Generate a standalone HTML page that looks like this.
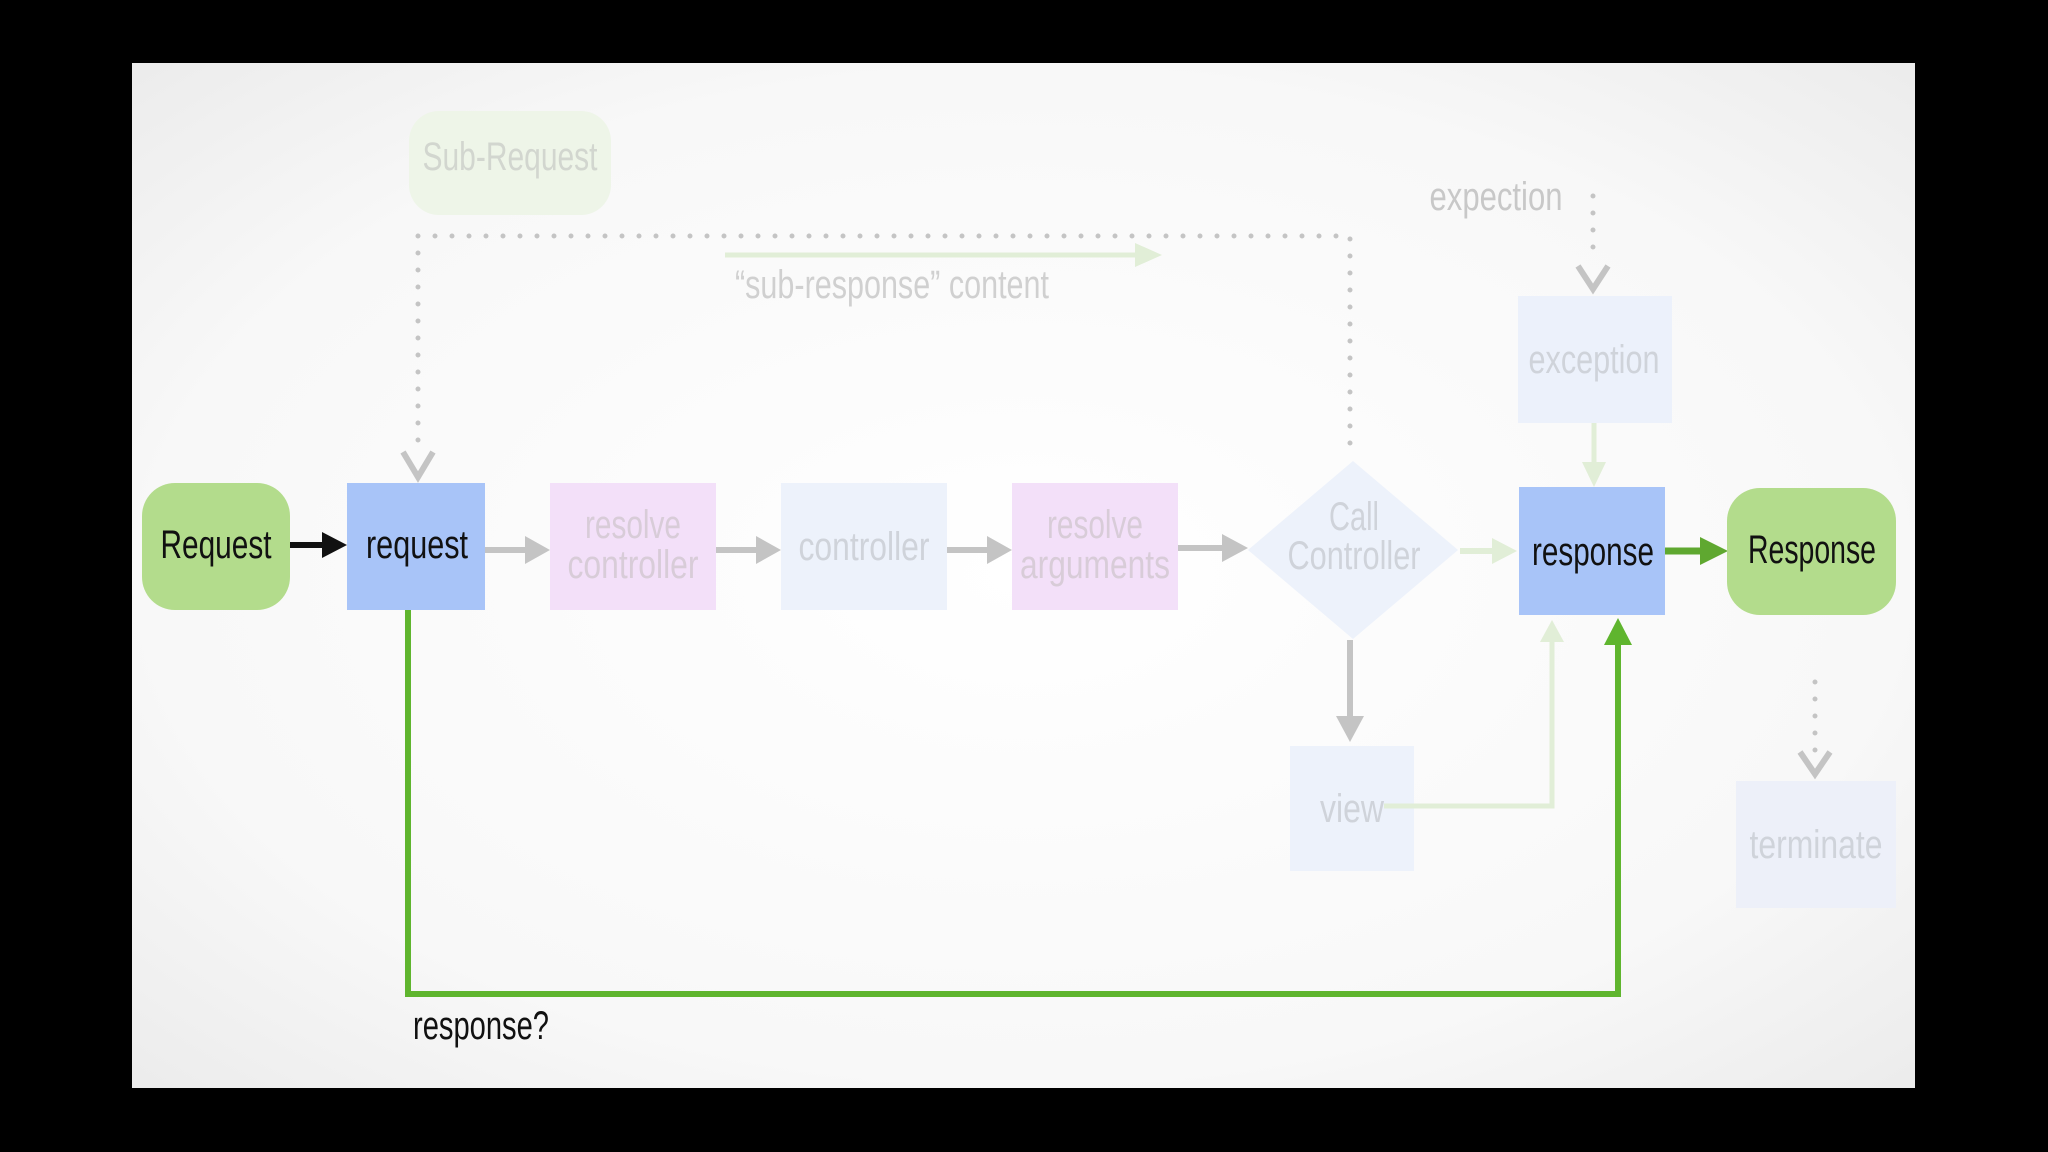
<!DOCTYPE html>
<html><head><meta charset="utf-8"><style>
html,body{margin:0;padding:0;background:#000;width:2048px;height:1152px;overflow:hidden}
svg text{font-family:"Liberation Sans Narrow","Liberation Sans",sans-serif;font-size:40px;text-anchor:middle}
</style></head><body>
<svg width="2048" height="1152" viewBox="0 0 2048 1152" xmlns="http://www.w3.org/2000/svg">
<defs>
<radialGradient id="bg" cx="0.5" cy="0.5" r="0.7">
<stop offset="0" stop-color="#ffffff"/><stop offset="0.7" stop-color="#f8f8f8"/><stop offset="1" stop-color="#ececec"/>
</radialGradient>
</defs>
<rect x="132" y="63" width="1783" height="1025" fill="url(#bg)"/>

<!-- Sub-Request -->
<rect x="409" y="111" width="202" height="104" rx="30" fill="#eef5e8"/>
<text x="510" y="170" fill="#d2d6cf" textLength="175" lengthAdjust="spacingAndGlyphs">Sub-Request</text>

<!-- dotted loop -->
<path d="M418 236 H1350 V457 M418 236 V455" fill="none" stroke="#c4c4c4" stroke-width="5" stroke-dasharray="0 17" stroke-linecap="round"/>
<path d="M403 452 L418 477 L433 452" fill="none" stroke="#c4c4c4" stroke-width="6"/>
<!-- sub-response green -->
<line x1="725" y1="255" x2="1150" y2="255" stroke="#e1eed7" stroke-width="5"/>
<path d="M1135 243 L1162 255 L1135 267 Z" fill="#e1eed7"/>
<text x="892" y="298" fill="#d0d0d0" textLength="314" lengthAdjust="spacingAndGlyphs">“sub-response” content</text>

<!-- expection -->
<text x="1496" y="210" fill="#c8c8c8" textLength="133" lengthAdjust="spacingAndGlyphs">expection</text>
<path d="M1593 196 V262" stroke="#c4c4c4" stroke-width="5" stroke-dasharray="0 17" stroke-linecap="round"/>
<path d="M1578 266 L1593 289 L1608 266" fill="none" stroke="#c4c4c4" stroke-width="6"/>
<rect x="1518" y="296" width="154" height="127" fill="#ecf1fb"/>
<text x="1594" y="373" fill="#cfd3da" textLength="131" lengthAdjust="spacingAndGlyphs">exception</text>
<line x1="1594" y1="423" x2="1594" y2="470" stroke="#e1eed7" stroke-width="5"/>
<path d="M1582 462 L1594 487 L1606 462 Z" fill="#e1eed7"/>

<!-- main row -->
<rect x="142" y="483" width="148" height="127" rx="33" fill="#b3dc8c"/>
<text x="216" y="558" fill="#111" textLength="111" lengthAdjust="spacingAndGlyphs">Request</text>
<line x1="290" y1="545" x2="330" y2="545" stroke="#111" stroke-width="6"/>
<path d="M322 532 L347 545 L322 558 Z" fill="#111"/>

<rect x="347" y="483" width="138" height="127" fill="#a8c4f8"/>
<text x="417" y="558" fill="#111" textLength="102" lengthAdjust="spacingAndGlyphs">request</text>

<g stroke="#c4c4c4" stroke-width="6">
<line x1="485" y1="550" x2="535" y2="550"/>
<line x1="716" y1="550" x2="766" y2="550"/>
<line x1="947" y1="550" x2="997" y2="550"/>
<line x1="1178" y1="548" x2="1232" y2="548"/>
</g>
<g fill="#c4c4c4">
<path d="M525 536 L550 550 L525 564 Z"/>
<path d="M756 536 L781 550 L756 564 Z"/>
<path d="M987 536 L1012 550 L987 564 Z"/>
<path d="M1222 534 L1248 548 L1222 562 Z"/>
</g>

<rect x="550" y="483" width="166" height="127" fill="#f3e0f9"/>
<text x="633" y="538" fill="#d8ccd8" textLength="96" lengthAdjust="spacingAndGlyphs">resolve</text>
<text x="633" y="578" fill="#d8ccd8" textLength="131" lengthAdjust="spacingAndGlyphs">controller</text>
<rect x="781" y="483" width="166" height="127" fill="#edf2fb"/>
<text x="864" y="560" fill="#cfd3da" textLength="131" lengthAdjust="spacingAndGlyphs">controller</text>
<rect x="1012" y="483" width="166" height="127" fill="#f3e0f9"/>
<text x="1095" y="538" fill="#d8ccd8" textLength="96" lengthAdjust="spacingAndGlyphs">resolve</text>
<text x="1095" y="578" fill="#d8ccd8" textLength="150" lengthAdjust="spacingAndGlyphs">arguments</text>

<path d="M1353 461 L1458 550 L1353 639 L1248 550 Z" fill="#edf2fb"/>
<text x="1354" y="530" fill="#cfd3da" textLength="50" lengthAdjust="spacingAndGlyphs">Call</text>
<text x="1354" y="569" fill="#cfd3da" textLength="133" lengthAdjust="spacingAndGlyphs">Controller</text>

<line x1="1460" y1="551" x2="1500" y2="551" stroke="#e1eed7" stroke-width="6"/>
<path d="M1492 538 L1517 551 L1492 564 Z" fill="#e1eed7"/>

<rect x="1519" y="487" width="146" height="128" fill="#a8c4f8"/>
<text x="1593" y="565" fill="#111" textLength="122" lengthAdjust="spacingAndGlyphs">response</text>
<line x1="1665" y1="551" x2="1710" y2="551" stroke="#5fa830" stroke-width="7"/>
<path d="M1700 537 L1728 551 L1700 565 Z" fill="#5fa830"/>
<rect x="1727" y="488" width="169" height="127" rx="33" fill="#b3dc8c"/>
<text x="1812" y="563" fill="#111" textLength="128" lengthAdjust="spacingAndGlyphs">Response</text>

<!-- down to view -->
<line x1="1350" y1="640" x2="1350" y2="725" stroke="#c4c4c4" stroke-width="6"/>
<path d="M1336 716 L1350 742 L1364 716 Z" fill="#c4c4c4"/>
<rect x="1290" y="746" width="124" height="125" fill="#edf2fb"/>
<text x="1352" y="822" fill="#cfd3da" textLength="64" lengthAdjust="spacingAndGlyphs">view</text>
<path d="M1384 806 H1552 V636" fill="none" stroke="#e1eed7" stroke-width="5"/>
<path d="M1540 642 L1552 620 L1564 642 Z" fill="#e1eed7"/>

<!-- terminate -->
<path d="M1815 682 V758" stroke="#c4c4c4" stroke-width="5" stroke-dasharray="0 17" stroke-linecap="round"/>
<path d="M1800 752 L1815 774 L1830 752" fill="none" stroke="#c4c4c4" stroke-width="6"/>
<rect x="1736" y="781" width="160" height="127" fill="#edf0f9"/>
<text x="1816" y="858" fill="#cfd3da" textLength="133" lengthAdjust="spacingAndGlyphs">terminate</text>

<!-- green response? loop -->
<path d="M408 610 V994 H1618 V640" fill="none" stroke="#5fb52e" stroke-width="6"/>
<path d="M1604 645 L1618 618 L1632 645 Z" fill="#5fb52e"/>
<text x="481" y="1039" fill="#111" textLength="136" lengthAdjust="spacingAndGlyphs">response?</text>
</svg>
</body></html>
